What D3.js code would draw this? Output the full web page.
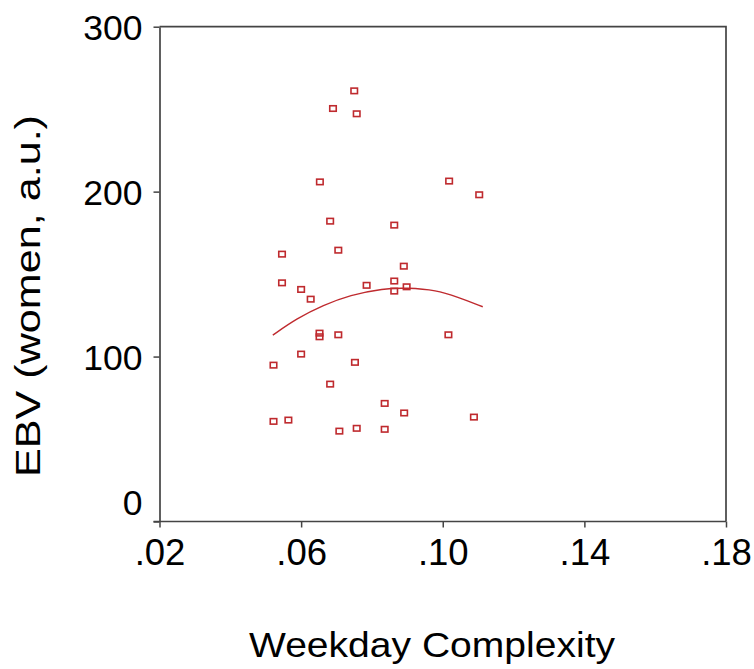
<!DOCTYPE html>
<html>
<head>
<meta charset="utf-8">
<script src="https://cdn.jsdelivr.net/npm/d3@7"></script>
<style>
  body { margin: 0; background: #fff; }
  text { font-family: "Liberation Sans", Arial, sans-serif; }
</style>
</head>
<body>
<div id="chart-area"></div>
<script>
// values
const weekdayComplexity = [0.0750, 0.0690, 0.0757, 0.0653, 0.1018, 0.1103, 0.0682, 0.0863, 0.0705, 0.0546,
  0.0890, 0.0546, 0.0785, 0.0863, 0.0898, 0.0863, 0.0600, 0.0627, 0.0652, 0.0652,
  0.0705, 0.1016, 0.0522, 0.0600, 0.0752, 0.0682, 0.0836, 0.0891, 0.1088, 0.0522,
  0.0564, 0.0708, 0.0757, 0.0836]
const ebvWomen = [261.1, 250.4, 247.2, 205.9, 206.4, 198.1, 182.1, 179.7, 164.5, 162.1,
  154.8, 144.7, 143.2, 145.8, 142.3, 139.7, 140.7, 134.8, 114.2, 112.0,
  113.2, 113.2, 94.8, 101.5, 96.5, 83.3, 71.6, 65.8, 63.3, 60.7,
  61.5, 54.8, 56.5, 55.9]

// fit line
const fitX = [0.0520, 0.0588, 0.0663, 0.0738, 0.0832, 0.0898, 0.0983, 0.1040, 0.1113]
const fitY = [113.0, 123.2, 131.2, 137.3, 141.3, 141.7, 140.3, 136.2, 130.2]

const xTicks = [0.02, 0.06, 0.10, 0.14, 0.18]
const yTicks = [0, 100, 200, 300]

const MARGIN = { LEFT: 159.5, RIGHT: 28, TOP: 26.7, BOTTOM: 147.5 }
const W = 754, H = 669
const WIDTH = W - MARGIN.LEFT - MARGIN.RIGHT
const HEIGHT = H - MARGIN.TOP - MARGIN.BOTTOM
const AXIS = "#444"
const RED = "#bf2a2e"

const svg = d3.select("#chart-area").append("svg")
  .attr("width", W)
  .attr("height", H)

const g = svg.append("g")
  .attr("transform", `translate(${MARGIN.LEFT}, ${MARGIN.TOP})`)

const x = d3.scaleLinear().domain([0.02, 0.18]).range([0, WIDTH])
const y = d3.scaleLinear().domain([0, 300]).range([HEIGHT, 0])

// frame (top + right)
g.append("path")
  .attr("d", `M0,0H${WIDTH}V${HEIGHT}`)
  .attr("fill", "none")
  .attr("stroke", AXIS)
  .attr("stroke-width", 1.7)

const xAxis = g.append("g")
  .attr("transform", `translate(0, ${HEIGHT})`)
  .call(d3.axisBottom(x).tickValues(xTicks).tickSize(6).tickSizeOuter(0)
    .tickFormat(d => d3.format(".2f")(d).replace(/^0/, "")))
xAxis.select(".domain").attr("stroke", AXIS).attr("stroke-width", 1.7)
  .attr("d", `M-6,0H${WIDTH}`)
xAxis.selectAll(".tick line").attr("stroke", AXIS).attr("stroke-width", 1.5)
xAxis.selectAll("text")
  .attr("y", 43.5).attr("dy", 0)
  .attr("font-size", "36.5px").attr("fill", "#000")
  .attr("font-family", "Liberation Sans, Arial, sans-serif")

const yAxis = g.append("g")
  .call(d3.axisLeft(y).tickValues(yTicks).tickSize(6).tickSizeOuter(0).tickPadding(11))
yAxis.select(".domain").attr("stroke", AXIS).attr("stroke-width", 1.7)
yAxis.selectAll(".tick line").attr("stroke", AXIS).attr("stroke-width", 1.5)
yAxis.selectAll("text")
  .attr("dy", d => d === 0 ? "-0.2em" : "0.35em")
  .attr("font-size", "35.5px").attr("fill", "#000")
  .attr("font-family", "Liberation Sans, Arial, sans-serif")

// fit curve
const fit = fitX.map((v, i) => [v, fitY[i]])
g.append("path")
  .datum(fit)
  .attr("fill", "none")
  .attr("stroke", RED)
  .attr("stroke-width", 1.4)
  .attr("d", d3.line().x(d => x(d[0])).y(d => y(d[1])).curve(d3.curveBasis))

// points
const pts = weekdayComplexity.map((v, i) => ({ wc: v, ebv: ebvWomen[i] }))
g.selectAll("rect.pt")
  .data(pts)
  .enter().append("rect")
  .attr("class", "pt")
  .attr("x", d => x(d.wc) - 3.25)
  .attr("y", d => y(d.ebv) - 2.75)
  .attr("width", 6.5)
  .attr("height", 5.5)
  .attr("fill", "none")
  .attr("stroke", RED)
  .attr("stroke-width", 1.6)

// X label
svg.append("text")
  .attr("x", 432)
  .attr("y", 657)
  .attr("font-size", "35px")
  .attr("text-anchor", "middle")
  .attr("textLength", 366)
  .attr("lengthAdjust", "spacingAndGlyphs")
  .text("Weekday Complexity")

// Y label
svg.append("text")
  .attr("transform", "translate(40, 296) rotate(-90)")
  .attr("font-size", "35px")
  .attr("text-anchor", "middle")
  .attr("textLength", 362)
  .attr("lengthAdjust", "spacingAndGlyphs")
  .text("EBV (women, a.u.)")
</script>
</body>
</html>
